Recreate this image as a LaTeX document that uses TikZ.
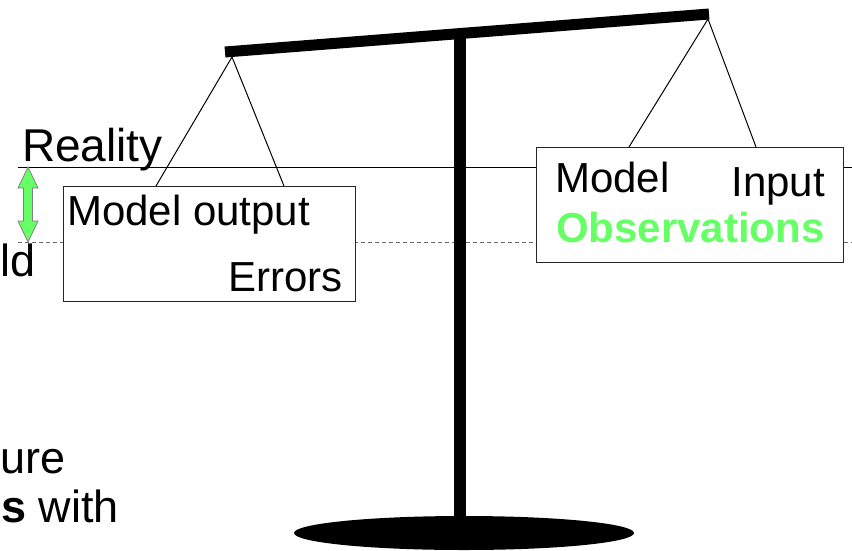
\documentclass[tikz,border=0pt]{standalone}
\usepackage{fontspec}
\setmainfont{Liberation Sans}
\usetikzlibrary{positioning}
\definecolor{obsgreen}{RGB}{102,255,102}
\tikzset{
  panbox/.style={draw=black!85,fill=white,line width=1.2pt,inner sep=0pt},
  bigtext/.style={font=\fontsize{42}{48}\selectfont,inner sep=0pt},
  sidetext/.style={font=\fontsize{45}{52}\selectfont,inner sep=0pt},
  hangline/.style={line width=1pt},
  levelline/.style={line width=1pt},
  modelline/.style={line width=0.9pt,gray!80!black,dash pattern=on 4pt off 3pt},
  beambar/.style={line width=11pt},
  fatarrow/.style={fill=obsgreen,draw=gray,line width=0.8pt}
}

\begin{document}
\begin{tikzpicture}[x=1pt,y=-1pt]
  \useasboundingbox (0,0) rectangle (852,550);
  % levels
  \coordinate (realL) at (18,167);
  \coordinate (realR) at (852,167);
  \coordinate (modL) at (18,242);
  \coordinate (modR) at (852,242);
  \draw[levelline] (realL) -- (realR);
  \draw[modelline] (modL) -- (modR);
  \node[sidetext,font=\fontsize{46}{52}\selectfont,anchor=base west] (reality) at (22,161) {Reality};
  \node[sidetext,anchor=base west] (world) at (0,276) {ld};
  \node[sidetext,anchor=base west] (cutA) at (0,473) {ure};
  \node[sidetext,anchor=base west] (cutB) at (1,522) {\textbf{s} with};
  % gap between reality and model
  \filldraw[fatarrow] (28,167) -- (38,188) -- (32.5,188) -- (32.5,221)
    -- (38,221) -- (28,242) -- (18,221) -- (23.5,221) -- (23.5,188)
    -- (18,188) -- cycle;
  % pans
  \node[panbox,anchor=north west,minimum width=292,minimum height=115] (outbox) at (63,186) {};
  \node[panbox,anchor=north west,minimum width=307,minimum height=115] (obsbox) at (536,147) {};
  \node[bigtext,anchor=base west] (modout) at (67,225) {Model output};
  \node[bigtext,anchor=base east] (errors) at (343,291) {Errors};
  \node[bigtext,anchor=base west] (model) at (555,192) {Model};
  \node[bigtext,anchor=base east] (input) at (825,196) {Input};
  \node[bigtext,anchor=base west,text=obsgreen,font=\fontsize{42}{48}\selectfont\bfseries] (obs) at (556,242) {Observations};
  % strings
  \coordinate (lhook) at (232,57);
  \coordinate (rhook) at (708,19);
  \draw[hangline] (lhook) -- ([xshift=93]outbox.north west);
  \draw[hangline] (lhook) -- ([xshift=221]outbox.north west);
  \draw[hangline] (rhook) -- ([xshift=93]obsbox.north west);
  \draw[hangline] (rhook) -- ([xshift=220]obsbox.north west);
  % balance
  \coordinate (beamL) at (225,52);
  \coordinate (beamR) at (709,14);
  \coordinate (poleT) at (460,36);
  \coordinate (poleB) at (460,525);
  \draw[line width=12pt] (poleT) -- (poleB);
  \draw[beambar] (beamL) -- (beamR);
  \fill (464,533) ellipse [x radius=170,y radius=17];
\end{tikzpicture}
\end{document}
